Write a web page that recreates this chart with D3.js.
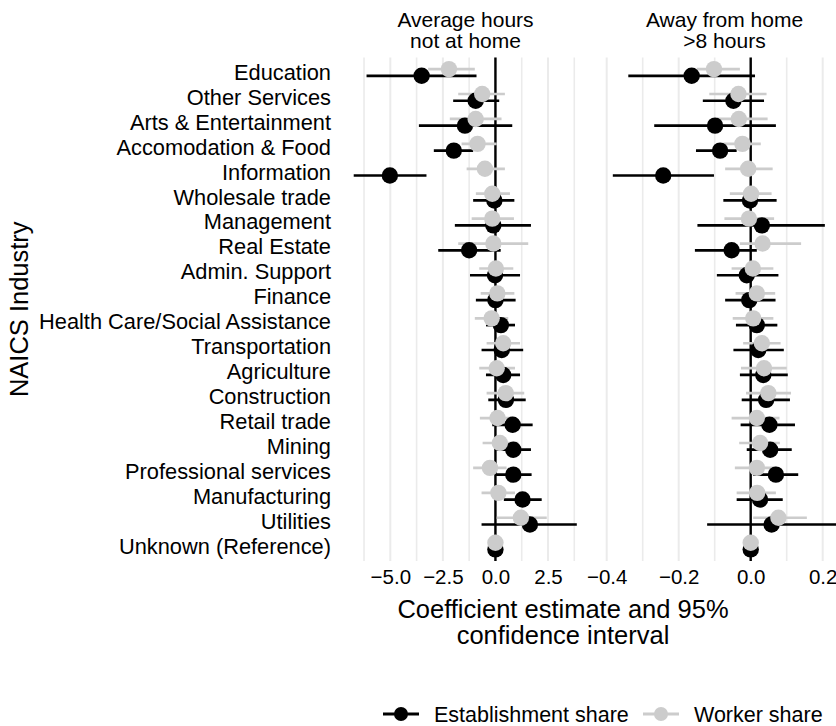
<!DOCTYPE html>
<html>
<head>
<meta charset="utf-8">
<script src="https://cdn.jsdelivr.net/npm/d3@7"></script>
<style>
  body { margin: 0; background: #fff; }
  text { font-family: "Liberation Sans", Arial, sans-serif; fill: #000; }
</style>
</head>
<body>
<script>
var width = 836;
var height = 726;

var industries = ["Education", "Other Services", "Arts & Entertainment", "Accomodation & Food",
    "Information", "Wholesale trade", "Management", "Real Estate", "Admin. Support", "Finance",
    "Health Care/Social Assistance", "Transportation", "Agriculture", "Construction", "Retail trade",
    "Mining", "Professional services", "Manufacturing", "Utilities", "Unknown (Reference)"];

// Average hours not at home
var avgEstab   = [-3.51, -0.94, -1.45, -1.98, -5.02, -0.05, -0.10, -1.25, -0.02, 0.00, 0.26, 0.30, 0.37, 0.50, 0.82, 0.85, 0.85, 1.29, 1.64, 0];
var avgEstabLo = [-6.13, -2.01, -3.64, -2.93, -6.74, -1.06, -1.93, -2.72, -1.21, -0.93, -0.45, -0.66, -0.45, -0.34, -0.15, 0.00, 0.00, 0.40, -0.66, 0];
var avgEstabHi = [-0.90, 0.18, 0.80, -1.06, -3.28, 0.90, 1.69, 0.25, 1.17, 0.96, 0.93, 1.32, 1.17, 1.44, 1.77, 1.69, 1.72, 2.20, 3.87, 0];
var avgWorker   = [-2.21, -0.63, -0.94, -0.85, -0.50, -0.15, -0.15, -0.10, 0.02, 0.09, -0.18, 0.37, 0.06, 0.49, 0.10, 0.21, -0.26, 0.14, 1.21, 0];
var avgWorkerLo = [-3.20, -1.77, -2.17, -1.61, -1.37, -0.93, -1.13, -1.77, -0.77, -0.70, -0.98, -0.42, -0.77, -0.42, -0.74, -0.61, -1.06, -0.66, 0.06, 0];
var avgWorkerHi = [-0.98, 0.45, 0.29, 0.06, 0.45, 0.69, 0.88, 1.56, 0.85, 0.90, 0.61, 1.17, 0.93, 1.37, 0.93, 1.09, 0.53, 0.93, 2.44, 0];

// Away from home >8 hours
var awayEstab   = [-0.164, -0.048, -0.099, -0.085, -0.243, -0.002, 0.031, -0.053, -0.011, -0.004, 0.017, 0.021, 0.035, 0.043, 0.052, 0.054, 0.070, 0.026, 0.058, 0];
var awayEstabLo = [-0.340, -0.133, -0.268, -0.152, -0.383, -0.076, -0.148, -0.155, -0.094, -0.071, -0.041, -0.048, -0.030, -0.025, -0.028, -0.011, 0.007, -0.039, -0.121, 0];
var awayEstabHi = [0.012, 0.037, 0.070, -0.039, -0.102, 0.072, 0.206, 0.017, 0.077, 0.069, 0.074, 0.092, 0.103, 0.109, 0.123, 0.114, 0.132, 0.089, 0.250, 0];
var awayWorker   = [-0.102, -0.034, -0.033, -0.023, -0.007, 0.001, -0.005, 0.033, 0.006, 0.017, 0.007, 0.031, 0.037, 0.049, 0.017, 0.026, 0.017, 0.018, 0.077, 0];
var awayWorkerLo = [-0.150, -0.115, -0.094, -0.076, -0.071, -0.058, -0.073, -0.030, -0.053, -0.042, -0.050, -0.021, -0.027, -0.013, -0.053, -0.032, -0.044, -0.039, 0.007, 0];
var awayWorkerHi = [-0.030, 0.044, 0.047, 0.028, 0.061, 0.058, 0.065, 0.140, 0.063, 0.068, 0.063, 0.083, 0.100, 0.112, 0.080, 0.081, 0.072, 0.070, 0.156, 0];

var seriesNames = ["Establishment share", "Worker share"];
var seriesColors = ["#000000", "#cccccc"];

var avgTicks = [-5.0, -2.5, 0.0, 2.5];
var awayTicks = [-0.4, -0.2, 0.0, 0.2];

var panelTop = 57.5;
var panelBottom = 561;
var dotR = 8.2;

function rows(est, lo, hi) {
    return industries.map(function (d, i) {
        return { industry: d, est: est[i], lo: lo[i], hi: hi[i] };
    });
}

var panels = [
    {
        title: ["Average hours", "not at home"],
        left: 343, right: 588,
        x: d3.scaleLinear().domain([-5, 2.5]).range([390.3, 548]),
        ticks: avgTicks, step: 2.5,
        series: [rows(avgEstab, avgEstabLo, avgEstabHi), rows(avgWorker, avgWorkerLo, avgWorkerHi)]
    },
    {
        title: ["Away from home", ">8 hours"],
        left: 601, right: 848,
        x: d3.scaleLinear().domain([-0.4, 0.2]).range([606.7, 822.7]),
        ticks: awayTicks, step: 0.2,
        series: [rows(awayEstab, awayEstabLo, awayEstabHi), rows(awayWorker, awayWorkerLo, awayWorkerHi)]
    }
];

var y = d3.scalePoint()
    .domain(industries)
    .range([panelTop, panelBottom])
    .padding(0.6);

var dodge = y.step() * 0.135;

var svg = d3.select("body").append("svg")
    .attr("width", width)
    .attr("height", height);

panels.forEach(function (p, pi) {
    var g = svg.append("g");
    var clipId = "clip" + pi;
    svg.append("clipPath").attr("id", clipId)
        .append("rect")
        .attr("x", p.left).attr("y", panelTop)
        .attr("width", p.right - p.left).attr("height", panelBottom - panelTop);

    var dom = [p.x.invert(p.left), p.x.invert(p.right)];
    var minors = d3.range(Math.floor(dom[0] / p.step) * p.step - p.step / 2, dom[1], p.step)
        .filter(function (v) { return v > dom[0] && v < dom[1]; });

    // gridlines
    g.append("g").selectAll("line.minor")
        .data(minors).enter().append("line")
        .attr("x1", function (d) { return p.x(d); })
        .attr("x2", function (d) { return p.x(d); })
        .attr("y1", panelTop).attr("y2", panelBottom)
        .style("stroke", "#ebebeb").style("stroke-width", 1.6);
    g.append("g").selectAll("line.major")
        .data(p.ticks).enter().append("line")
        .attr("x1", function (d) { return p.x(d); })
        .attr("x2", function (d) { return p.x(d); })
        .attr("y1", panelTop).attr("y2", panelBottom)
        .style("stroke", "#ebebeb").style("stroke-width", 2);

    // zero line
    g.append("line")
        .attr("x1", p.x(0)).attr("x2", p.x(0))
        .attr("y1", panelTop).attr("y2", panelBottom)
        .style("stroke", "#000").style("stroke-width", 2.4);

    var marks = g.append("g").attr("clip-path", "url(#" + clipId + ")");

    p.series.forEach(function (s, si) {
        var off = si === 0 ? dodge : -dodge;
        marks.append("g").selectAll("line")
            .data(s.filter(function (d) { return d.hi > d.lo; }))
            .enter().append("line")
            .attr("x1", function (d) { return p.x(d.lo); })
            .attr("x2", function (d) { return p.x(d.hi); })
            .attr("y1", function (d) { return y(d.industry) + off; })
            .attr("y2", function (d) { return y(d.industry) + off; })
            .style("stroke", seriesColors[si])
            .style("stroke-width", 2.7);
    });
    p.series.forEach(function (s, si) {
        var off = si === 0 ? dodge : -dodge;
        marks.append("g").selectAll("circle")
            .data(s).enter().append("circle")
            .attr("cx", function (d) { return p.x(d.est); })
            .attr("cy", function (d) { return y(d.industry) + off; })
            .attr("r", dotR)
            .attr("fill", seriesColors[si]);
    });

    // x axis labels
    var xAxis = g.append("g")
        .attr("transform", "translate(0," + (panelBottom + 4) + ")")
        .call(d3.axisBottom(p.x).tickValues(p.ticks).tickSize(0).tickPadding(4)
            .tickFormat(d3.format(".1f")));
    xAxis.select(".domain").remove();
    xAxis.selectAll("text")
        .style("font-size", "20.5px")
        .style("font-family", "Liberation Sans, Arial, sans-serif")
        .attr("fill", "#000");

    // strip title
    var cx = (p.left + p.right) / 2;
    g.selectAll("text.strip")
        .data(p.title).enter().append("text")
        .attr("class", "strip")
        .attr("x", cx)
        .attr("y", function (d, i) { return 27 + i * 21; })
        .attr("text-anchor", "middle")
        .style("font-size", "21px")
        .text(function (d) { return d; });
});

// y axis labels
var yAxis = svg.append("g")
    .attr("transform", "translate(339,0)")
    .call(d3.axisLeft(y).tickSize(0).tickPadding(8));
yAxis.select(".domain").remove();
yAxis.selectAll("text")
    .style("font-size", "21.8px")
    .style("font-family", "Liberation Sans, Arial, sans-serif")
    .attr("fill", "#000");

// axis titles
svg.append("text")
    .attr("transform", "translate(28," + ((panelTop + panelBottom) / 2) + ") rotate(-90)")
    .attr("text-anchor", "middle")
    .style("font-size", "25.5px")
    .text("NAICS Industry");

var xTitle = ["Coefficient estimate and 95%", "confidence interval"];
svg.selectAll("text.xtitle")
    .data(xTitle).enter().append("text")
    .attr("class", "xtitle")
    .attr("x", 563)
    .attr("y", function (d, i) { return 618 + i * 26; })
    .attr("text-anchor", "middle")
    .style("font-size", "25.5px")
    .text(function (d) { return d; });

// legend
var legendX = [383, 643];
var legendY = 714;
var legend = svg.append("g");
seriesNames.forEach(function (name, i) {
    var lg = legend.append("g").attr("transform", "translate(" + legendX[i] + "," + legendY + ")");
    lg.append("line")
        .attr("x1", 0).attr("x2", 36)
        .attr("y1", 0).attr("y2", 0)
        .style("stroke", seriesColors[i]).style("stroke-width", 3);
    lg.append("circle")
        .attr("cx", 18).attr("cy", 0).attr("r", 7)
        .attr("fill", seriesColors[i]);
    lg.append("text")
        .attr("x", 51).attr("y", 7.5)
        .style("font-size", "21.5px")
        .text(name);
});
</script>
</body>
</html>
